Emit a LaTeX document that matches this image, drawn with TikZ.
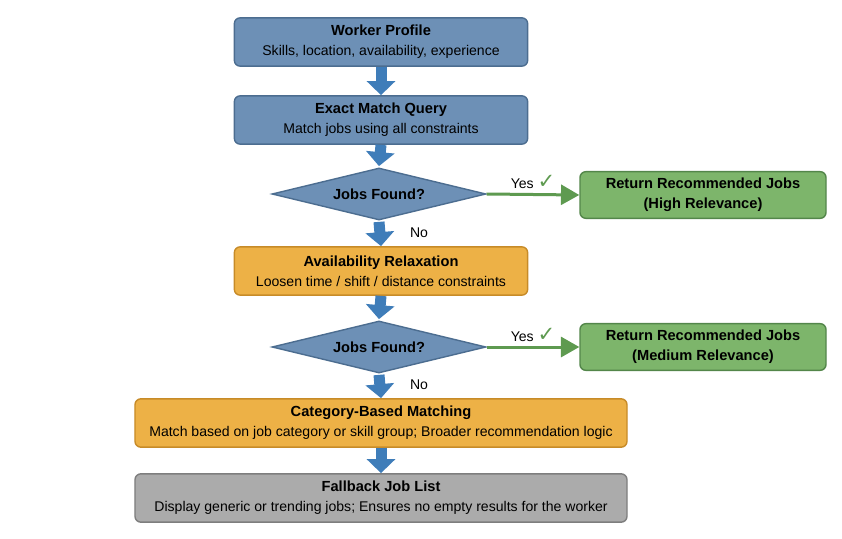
\documentclass[tikz,border=0pt]{standalone}
\usepackage{fontspec}
\setmainfont{Liberation Sans}
\newfontfamily\symfont{DejaVu Sans}
\usepackage{xcolor}
\usetikzlibrary{shapes.geometric,arrows.meta}

\definecolor{blueFill}{HTML}{6D90B6}
\definecolor{blueLine}{HTML}{4C6D90}
\definecolor{orangeFill}{HTML}{EDB146}
\definecolor{orangeLine}{HTML}{C78B28}
\definecolor{greenFill}{HTML}{7DB56B}
\definecolor{greenLine}{HTML}{53864A}
\definecolor{grayFill}{HTML}{ABABAB}
\definecolor{grayLine}{HTML}{7E7E7E}
\definecolor{arrowBlue}{HTML}{3F7DB9}
\definecolor{yesGreen}{HTML}{5E9A50}

\newcommand{\boxtext}[2]{{\fontsize{12.5}{15}\selectfont\bfseries #1}\\[5pt]{\fontsize{12}{14}\selectfont #2}}
\newcommand{\yesmark}{Yes {\symfont\bfseries\color{yesGreen}\fontsize{18}{14}\selectfont ✓}}

\tikzset{
  procbox/.style={rectangle, rounded corners=5pt, line width=1.2pt, align=center,
    inner sep=0pt, minimum height=1.45cm},
  bluebox/.style={procbox, draw=blueLine, fill=blueFill, minimum width=8.8cm},
  orangebox/.style={procbox, draw=orangeLine, fill=orangeFill},
  graybox/.style={procbox, draw=grayLine, fill=grayFill, minimum width=14.76cm},
  greenbox/.style={procbox, draw=greenLine, fill=greenFill, minimum height=1.4cm,
    minimum width=7.38cm, font=\fontsize{12.5}{17}\selectfont\bfseries},
  decision/.style={diamond, draw=blueLine, fill=blueFill, line width=1.2pt,
    aspect=4.1, inner sep=0pt, minimum width=6.42cm, minimum height=1.56cm,
    font=\fontsize{12.5}{15}\selectfont\bfseries},
  flowarrow/.style={draw=arrowBlue, line width=0.33cm,
    -{Triangle[width=0.84cm,length=0.42cm]}},
  yesarrow/.style={draw=yesGreen, line width=0.09cm,
    -{Triangle[width=0.6cm,length=0.55cm]}},
  edgelabel/.style={font=\fontsize{12}{14}\selectfont}
}

\begin{document}
\begin{tikzpicture}[x=0.03cm, y=-0.03cm]

\useasboundingbox (0,0) rectangle (842,539);

% main column
\node[bluebox] (profile) at (381,42) {\boxtext{Worker Profile}{Skills, location, availability, experience}};
\node[bluebox] (exact) at (381,120) {\boxtext{Exact Match Query}{Match jobs using all constraints}};
\node[decision] (found1) at (379,194) {Jobs Found?};
\node[orangebox, minimum width=8.8cm] (relax) at (381,271) {\boxtext{Availability Relaxation}{Loosen time / shift / distance constraints}};
\node[decision] (found2) at (379,347) {Jobs Found?};
\node[orangebox, minimum width=14.76cm] (category) at (381,423) {\boxtext{Category-Based Matching}{Match based on job category or skill group; Broader recommendation logic}};
\node[graybox] (fallback) at (381,498) {\boxtext{Fallback Job List}{Display generic or trending jobs; Ensures no empty results for the worker}};

% results
\node[greenbox] (high) at (703,195) {Return Recommended Jobs\\(High Relevance)};
\node[greenbox] (medium) at (703,347) {Return Recommended Jobs\\(Medium Relevance)};

\draw[flowarrow] (profile.south) -- (exact.north);
\draw[flowarrow] (exact.south) -- ([yshift=1pt]found1.north);
\draw[flowarrow] ([yshift=-1pt]found1.south) -- (relax.north);
\draw[flowarrow] (relax.south) -- ([yshift=1pt]found2.north);
\draw[flowarrow] ([yshift=-1pt]found2.south) -- (category.north);
\draw[flowarrow] (category.south) -- (fallback.north);

\draw[yesarrow] (found1.east) -- (high.west)
  node[pos=0.5, above=0pt, edgelabel] {\yesmark};
\draw[yesarrow] (found2.east) -- (medium.west)
  node[pos=0.5, above=0pt, edgelabel] {\yesmark};

\node[edgelabel] (no1) at (419,233) {No};
\node[edgelabel] (no2) at (419,385) {No};

\end{tikzpicture}
\end{document}
